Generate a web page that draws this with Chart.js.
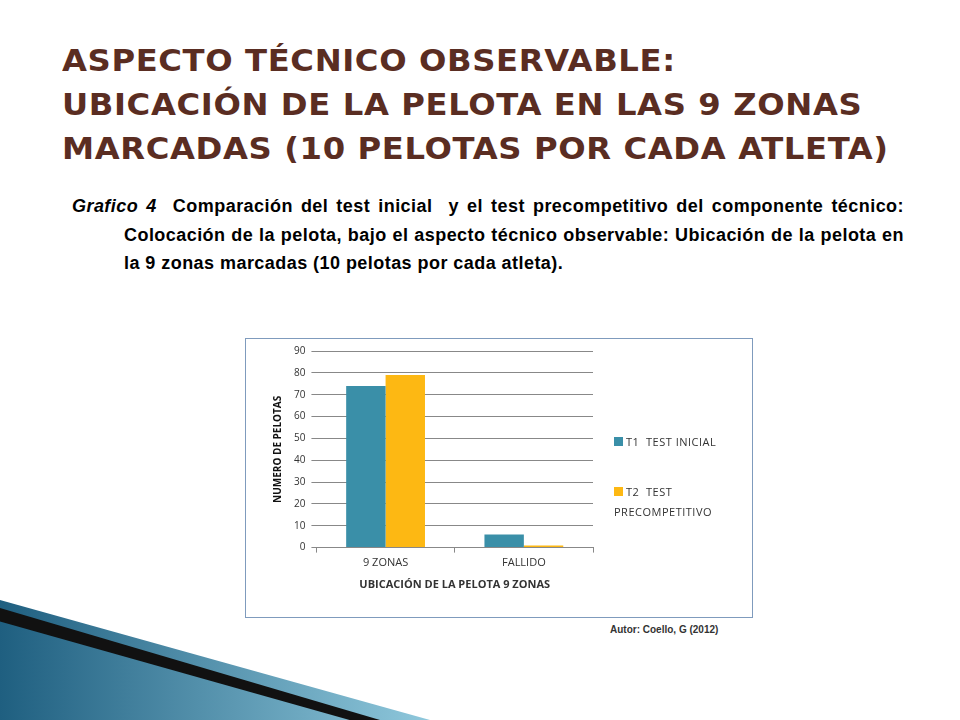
<!DOCTYPE html>
<html lang="es">
<head>
<meta charset="UTF-8">
<title>Ubicación de la pelota</title>
<script src="https://cdn.jsdelivr.net/npm/chart.js"></script>
<style>
  body { margin: 0; width: 960px; height: 720px; background: #fff; position: relative; overflow: hidden; font-family: "Liberation Sans", Arial, sans-serif; }
  h1 { position: absolute; left: 62px; top: 38px; margin: 0; font-family: "DejaVu Sans", sans-serif; font-weight: bold; font-size: 31px; line-height: 44px; color: #5a2d22; letter-spacing: 0.6px; white-space: nowrap; transform-origin: left top; transform: scaleX(1.04); }
  .txt { position: absolute; left: 72px; top: 192px; width: 832px; font-size: 18px; line-height: 28.5px; font-weight: bold; letter-spacing: 0.45px; text-align: justify; padding-left: 52px; text-indent: -52px; box-sizing: border-box; }
  .box { position: absolute; left: 245px; top: 338px; width: 506px; height: 278px; border: 1px solid #7f9bbd; }
  .lg { position: absolute; font-family: "Open Sans", sans-serif; font-size: 11px; color: #333; letter-spacing: 0.5px; }
  .sw { display: inline-block; width: 9px; height: 9px; margin-right: 3px; }
  .autor { position: absolute; left: 610px; top: 624px; font-size: 10px; font-weight: bold; color: #333; }
  .deco { position: absolute; left: 0; top: 600px; width: 430px; height: 120px; background: linear-gradient(90deg,#1f5f80,#8fc8dc); clip-path: polygon(0 0, 100% 100%, 0 100%); }
  .deco2 { position: absolute; left: 0; top: 608px; width: 380px; height: 112px; background: #111; clip-path: polygon(0 0, 100% 100%, 92% 100%, 0 12%); }
</style>
</head>
<body>
<h1>ASPECTO TÉCNICO OBSERVABLE:<br>UBICACIÓN DE LA PELOTA EN LAS 9 ZONAS<br>MARCADAS (10 PELOTAS POR CADA ATLETA)</h1>
<div class="txt"><i>Grafico 4</i>&nbsp;&nbsp;Comparación del test inicial&nbsp; y el test precompetitivo del componente técnico: Colocación de la pelota, bajo el aspecto técnico observable: Ubicación de la pelota en la 9 zonas marcadas (10 pelotas por cada atleta).</div>
<div class="box"><canvas id="c"></canvas></div>
<div class="lg" style="left:614px;top:434px"><span class="sw" style="background:#3a8fa8"></span>T1&nbsp; TEST INICIAL</div>
<div class="lg" style="left:614px;top:482px;line-height:20px"><span class="sw" style="background:#fdb813"></span>T2&nbsp; TEST<br>PRECOMPETITIVO</div>
<div class="autor">Autor: Coello, G (2012)</div>
<div class="deco"></div><div class="deco2"></div>
<script>
const categories = ['9 ZONAS', 'FALLIDO'];
const t1Values = [74, 6];
const t2Values = [79, 1];
const seriesNames = ['T1  TEST INICIAL', 'T2  TEST PRECOMPETITIVO'];

const cv = document.getElementById('c');
cv.width = 506; cv.height = 278;
cv.style.width = '506px'; cv.style.height = '278px';

new Chart(cv, {
  type: 'bar',
  data: {
    labels: categories,
    datasets: [
      { label: seriesNames[0], data: t1Values, backgroundColor: '#3a8fa8' },
      { label: seriesNames[1], data: t2Values, backgroundColor: '#fdb813' }
    ]
  },
  options: {
    responsive: false, animation: false,
    categoryPercentage: 0.57, barPercentage: 1,
    layout: { padding: { top: 10, right: 159, bottom: 22, left: 22 } },
    plugins: { legend: { display: false }, tooltip: { enabled: false } },
    scales: {
      x: {
        grid: { drawOnChartArea: false, color: '#888', tickLength: 5 },
        border: { color: '#888' },
        ticks: { color: '#333', font: { family: 'Open Sans', size: 11 }, padding: 4 },
        title: { display: true, text: 'UBICACIÓN DE LA PELOTA 9 ZONAS', color: '#333', font: { family: 'Open Sans', size: 11, weight: 'bold' } }
      },
      y: {
        min: 0, max: 90,
        ticks: { stepSize: 10, color: '#333', font: { family: 'Open Sans', size: 10 }, padding: 6 },
        grid: { color: '#888', tickLength: 5 },
        border: { display: false },
        title: { display: true, text: 'NUMERO DE PELOTAS', color: '#111', font: { family: 'Open Sans', size: 10, weight: 'bold' } }
      }
    }
  }
});
</script>
</body>
</html>
